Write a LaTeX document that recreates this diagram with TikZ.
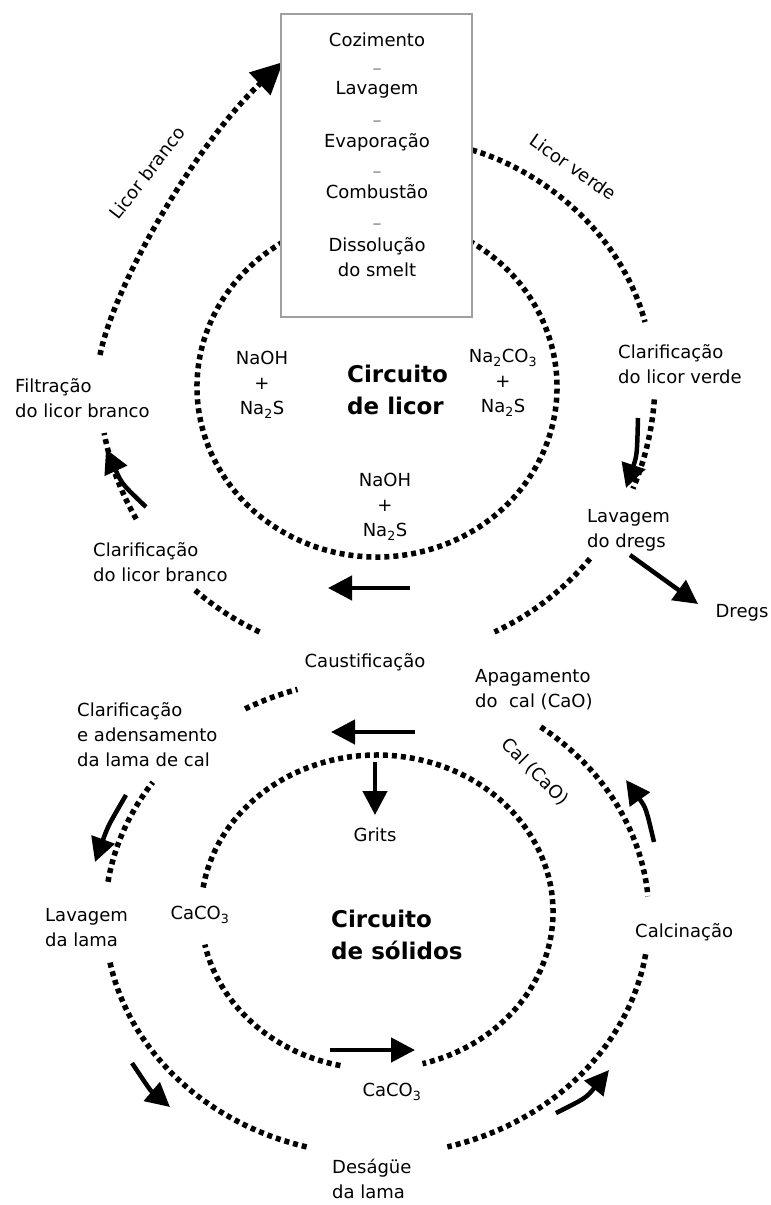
\documentclass[tikz,border=0pt]{standalone}
\usepackage{fontspec}
\setmainfont{DejaVu Sans}
\usetikzlibrary{arrows.meta}
\tikzset{
  dots/.style={line width=5.5pt, dash pattern=on 5pt off 4pt, line cap=butt},
  flow/.style={line width=4.5pt, -{Triangle[length=24pt,width=24pt]}},
  lbl/.style={font=\fontsize{18}{25}\selectfont, inner sep=0pt, align=center},
  lbll/.style={font=\fontsize{18}{25}\selectfont, inner sep=0pt, align=left},
  ttl/.style={font=\fontsize{23}{32}\selectfont\bfseries, inner sep=0pt, align=left},
  sepr/.style={font=\fontsize{18}{25}\selectfont, text=gray, inner sep=0pt},
}
\begin{document}
\begin{tikzpicture}[x=1pt,y=-1pt]
\useasboundingbox (0,0) rectangle (771,1205);

% ---------- liquor circuit ----------
% inner circle
\draw[dots] (377,387) ++(-62:180 and 170) arc[start angle=-62,end angle=242,x radius=180,y radius=170];
% outer arcs
\coordinate (lbA) at (100,355);
\coordinate (lbB) at (283,62);
\draw[dots,-{Triangle[length=32pt,width=30pt]}] (lbA) .. controls (114,285) and (195,145) .. (lbB);
\coordinate (lvA) at (472,150);
\coordinate (lvB) at (645,322);
\draw[dots] (lvA) .. controls (540,170) and (620,230) .. (lvB);
\draw[dots] (377,380) ++(150:278) arc[start angle=150,end angle=169,radius=278];
\draw[dots] (377,380) ++(115:278) arc[start angle=115,end angle=131,radius=278];
\draw[dots] (377,380) ++(40:278) arc[start angle=40,end angle=65,radius=278];
\draw[dots] (377,380) ++(4:278) arc[start angle=4,end angle=23,radius=278];

% box
\node[draw=gray!75, line width=2.5pt, fill=white, minimum width=191pt, minimum height=303pt, inner sep=0pt] (box) at (376.5,165.5) {};
\node[lbl] (coz) at (377,40) {Cozimento};
\node[sepr] (s1) at (377,72) {–};
\node[lbl] (lav) at (377,90) {Lavagem};
\node[sepr] (s2) at (377,124) {–};
\node[lbl] (eva) at (377,142) {Evaporação};
\node[sepr] (s3) at (377,175) {–};
\node[lbl] (com) at (377,192) {Combustão};
\node[sepr] (s4) at (377,227) {–};
\node[lbl] (dis) at (377,257) {Dissolução\\do smelt};

% liquor labels
\node[lbl, rotate=52] (lb) at (147,173) {Licor branco};
\node[lbl, rotate=-35] (lv) at (573,167) {Licor verde};
\node[lbl] (chemL) at (262,385) {NaOH\\+\\Na\textsubscript{2}S};
\node[lbl] (chemR) at (503,383) {Na\textsubscript{2}CO\textsubscript{3}\\+\\Na\textsubscript{2}S};
\node[lbl] (chemB) at (385,507) {NaOH\\+\\Na\textsubscript{2}S};
\node[ttl, anchor=west] (cl) at (347,390) {Circuito\\de licor};
\node[lbll, anchor=west] (filt) at (15,398) {Filtração\\do licor branco};
\node[lbll, anchor=west] (clv) at (618,364) {Clarificação\\do licor verde};
\node[lbll, anchor=west] (lavd) at (587,530) {Lavagem\\do dregs};
\node[lbl] (dregs) at (742,613) {Dregs};
\node[lbll, anchor=west] (clb) at (93,562) {Clarificação\\do licor branco};
\node[lbl] (caus) at (365,662) {Caustificação};
\node[lbll, anchor=west] (apag) at (475,690) {Apagamento\\do\ \ cal (CaO)};

% liquor solid arrows
\coordinate (a1s) at (146,507); \coordinate (a1e) at (106,449);
\draw[flow] (a1s) .. controls (122,484) .. (a1e);
\coordinate (a2s) at (638,418); \coordinate (a2e) at (626,488);
\draw[flow] (a2s) .. controls (637,455) .. (a2e);
\coordinate (d1) at (630,555); \coordinate (d2) at (698,604);
\draw[flow] (d1) -- (d2);
\coordinate (u1) at (410,588); \coordinate (u2) at (328,588);
\draw[flow] (u1) -- (u2);

% ---------- solids circuit ----------
\draw[dots] (377,912) ++(102:176 and 157) arc[start angle=102,end angle=168,x radius=176,y radius=157];
\draw[dots] (377,912) ++(189:176 and 157) arc[start angle=189,end angle=435,x radius=176,y radius=157];
% outer ring
\draw[dots] (377,917) ++(241:272 and 238) arc[start angle=241,end angle=253,x radius=272,y radius=238];
\draw[dots] (377,917) ++(188.5:272 and 238) arc[start angle=188.5,end angle=214.5,x radius=272,y radius=238];
\draw[dots] (377,917) ++(105:272 and 238) arc[start angle=105,end angle=169,x radius=272,y radius=238];
\draw[dots] (377,917) ++(9:272 and 238) arc[start angle=9,end angle=75,x radius=272,y radius=238];
\draw[dots] (377,917) ++(-53:272 and 238) arc[start angle=-53,end angle=-5,x radius=272,y radius=238];

% solids labels
\node[lbll, anchor=west] (clam) at (77,735) {Clarificação\\e adensamento\\da lama de cal};
\node[lbl, rotate=-45] (cal) at (535,772) {Cal (CaO)};
\node[lbl] (grits) at (375,835) {Grits};
\node[lbl] (cacoL) at (200,915) {CaCO\textsubscript{3}};
\node[ttl, anchor=west] (cs) at (331,935) {Circuito\\de sólidos};
\node[lbll, anchor=west] (lavl) at (45,928) {Lavagem\\da lama};
\node[lbl, anchor=west] (calc) at (635,932) {Calcinação};
\node[lbl] (cacoB) at (392,1092) {CaCO\textsubscript{3}};
\node[lbll, anchor=west] (desag) at (332,1179) {Deságüe\\da lama};

% solids solid arrows
\coordinate (l1) at (415,732); \coordinate (l2) at (331,732);
\draw[flow] (l1) -- (l2);
\coordinate (g1) at (375,762); \coordinate (g2) at (375,815);
\draw[flow] (g1) -- (g2);
\coordinate (b1) at (330,1050); \coordinate (b2) at (415,1050);
\draw[flow] (b1) -- (b2);
\coordinate (c1) at (126,795); \coordinate (c2) at (95,862);
\draw[flow] (c1) .. controls (108,826) .. (c2);
\coordinate (e1) at (132,1063); \coordinate (e2) at (170,1107);
\draw[flow] (e1) .. controls (150,1090) .. (e2);
\coordinate (f1) at (556,1113); \coordinate (f2) at (609,1070);
\draw[flow] (f1) .. controls (586,1098) .. (f2);
\coordinate (h1) at (654,842); \coordinate (h2) at (626,780);
\draw[flow] (h1) .. controls (646,808) .. (h2);
\end{tikzpicture}
\end{document}
